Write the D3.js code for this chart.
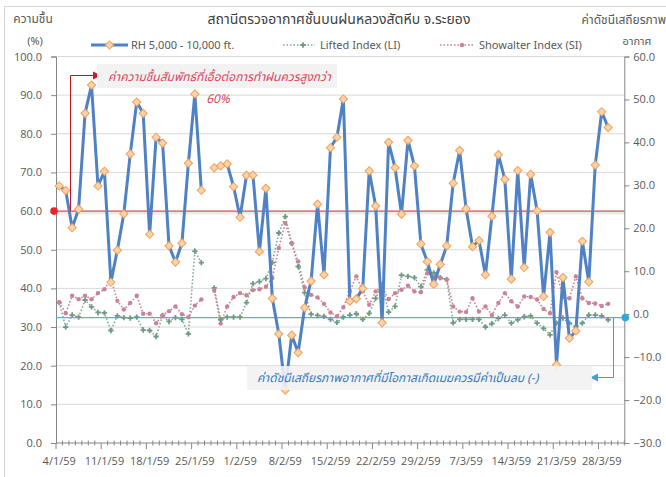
<!DOCTYPE html>
<html><head><meta charset="utf-8">
<script src="https://cdn.jsdelivr.net/npm/d3@7"></script>
<style>
body{margin:0;background:#fff;}
svg{display:block;font-family:"Noto Sans Thai","Leelawadee UI",Tahoma,"Noto Sans","DejaVu Sans",sans-serif;}
</style>
</head><body><svg id="c" width="666" height="477"></svg>
<script>
// ---- data ----
const startDate = new Date(2016, 0, 4);
const endDate = new Date(2016, 3, 1);
const xTickLabels = ["4/1/59","11/1/59","18/1/59","25/1/59","1/2/59","8/2/59","15/2/59","22/2/59","29/2/59","7/3/59","14/3/59","21/3/59","28/3/59"];
const leftTicks = [0,10,20,30,40,50,60,70,80,90,100];
const rightTicks = [-30,-20,-10,0,10,20,30,40,50,60];
const rh = [66.5,65.3,55.7,60.5,85.3,92.6,66.5,70.3,41.6,49.9,
  59.3,74.8,88.2,85.3,54.0,79.1,77.6,51.0,46.8,51.7,
  72.4,90.3,65.4,null,71.2,71.7,72.2,66.3,58.4,69.3,
  69.3,49.5,65.9,37.4,28.2,13.7,27.9,23.4,35.0,41.9,
  61.8,43.5,76.4,79.1,89.0,36.7,37.3,40.0,70.4,61.3,
  31.1,77.8,71.2,59.2,78.3,71.7,51.5,46.9,41.1,46.2,
  51.0,67.2,75.7,60.6,50.8,52.4,43.5,58.7,74.6,68.2,
  42.4,70.5,45.4,69.5,60.1,37.9,54.5,20.2,42.8,27.1,
  29.0,52.2,41.7,71.9,85.7,81.6];
const li = [2.7,-3.0,-0.2,-0.7,3.3,1.7,0.4,0.3,-3.8,-0.4,
  -0.8,-0.9,-0.7,-3.7,-3.8,-5.2,-0.3,-1.7,-0.8,-1.2,
  -4.6,14.7,12.0,null,6.1,-1.3,-0.7,-0.7,-0.7,2.7,
  7.1,7.6,8.3,12.0,18.9,22.7,16.5,11.1,5.0,0.0,
  -0.3,-0.5,-1.2,-1.9,-0.7,-0.2,0.1,-1.2,0.2,3.7,
  7.0,0.5,1.8,9.1,8.8,8.5,6.4,10.3,9.6,8.5,
  8.1,-2.0,-1.2,-1.2,-1.2,-1.2,-3.0,-2.2,-1.0,-0.2,
  -2.1,-1.3,-0.6,-0.4,-2.1,-3.3,-4.8,-2.1,-0.9,-2.1,
  -2.9,-2.1,-0.2,-0.2,-0.4,-1.3];
const si = [2.8,0.2,4.3,3.5,4.3,3.5,4.9,5.8,8.3,3.1,
  1.1,2.6,4.3,0.1,0.1,-2.1,-0.3,0.7,1.8,0.0,
  -0.7,2.0,3.4,null,5.5,-2.2,1.8,4.0,4.9,4.4,
  5.6,5.8,6.4,8.4,15.4,21.2,16.5,12.3,6.2,4.5,
  3.9,2.4,0.4,-0.5,1.6,5.3,8.8,5.3,2.2,5.3,
  6.4,3.5,4.9,5.7,6.6,5.3,5.1,9.5,8.8,8.4,
  8.0,1.8,0.6,0.5,3.7,0.6,1.8,-0.2,2.6,4.9,
  3.0,1.8,4.1,4.0,3.4,1.2,0.2,9.8,4.0,3.7,
  8.8,3.7,2.6,2.5,1.9,2.4];
const rhThreshold = 60;
const stabilityThreshold = -0.8;

// ---- layout ----
const L = 56, R = 624.3, T = 56.5, B = 443;
const svg = d3.select("#c");
const days = d3.timeDay.range(startDate, endDate);
const x = d3.scaleBand().domain(d3.range(days.length)).range([L, R]);
const xc = i => x(i) + x.bandwidth() / 2;
const yL = d3.scaleLinear().domain([0, 100]).range([B, T]);
const yR = d3.scaleLinear().domain([-30, 60]).range([B, T]);
const axisCol = "#868686", txtCol = "#595959";

svg.append("rect").attr("x", 0).attr("y", 0).attr("width", 666).attr("height", 477).attr("fill", "#fff");
svg.append("rect").attr("x", 4.5).attr("y", 6.5).attr("width", 700).attr("height", 500)
  .attr("fill", "none").attr("stroke", "#d4d4d4");

// gridlines
svg.append("g").selectAll("line").data(leftTicks.filter(d => d > 0)).join("line")
  .attr("x1", L).attr("x2", R).attr("y1", d => yL(d)).attr("y2", d => yL(d))
  .attr("stroke", "#d9d9d9").attr("stroke-width", 1);

// left axis
const gL = svg.append("g").attr("transform", `translate(${L},0)`)
  .call(d3.axisLeft(yL).tickValues(leftTicks).tickFormat(d3.format(".1f")).tickSize(5).tickPadding(9));
gL.selectAll("path,line").attr("stroke", axisCol);
gL.selectAll("text").attr("fill", txtCol).style("font-size", "11px").style("font-family", "'Open Sans',sans-serif");

// right axis
const gR = svg.append("g").attr("transform", `translate(${R},0)`)
  .call(d3.axisRight(yR).tickValues(rightTicks).tickFormat(d3.format(".1f")).tickSize(5).tickPadding(4));
gR.selectAll("path,line").attr("stroke", axisCol);
gR.selectAll("text").attr("fill", txtCol).style("font-size", "11px").style("font-family", "'Open Sans',sans-serif");

// x axis
const gX = svg.append("g");
gX.append("line").attr("x1", L).attr("x2", R).attr("y1", B).attr("y2", B).attr("stroke", axisCol);
const edges = d3.range(days.length + 1);
gX.selectAll("line.t").data(edges).join("line").attr("class", "t")
  .attr("x1", i => i < days.length ? x(i) : R).attr("x2", i => i < days.length ? x(i) : R)
  .attr("y1", i => i % 7 === 0 ? B : B - 2.5).attr("y2", i => i % 7 === 0 ? B + 6 : B + 2.5)
  .attr("stroke", axisCol);
const gXl = svg.append("g").attr("transform", `translate(0,${B})`)
  .call(d3.axisBottom(x).tickValues(xTickLabels.map((d, k) => k * 7)).tickFormat((d) => xTickLabels[d / 7]).tickSize(0).tickPadding(14));
gXl.select(".domain").remove();
gXl.selectAll("text").attr("fill", txtCol).style("font-size", "11px").style("font-family", "'Open Sans',sans-serif");

// threshold lines
svg.append("line").attr("x1", L).attr("x2", R).attr("y1", yL(rhThreshold) + 2).attr("y2", yL(rhThreshold) + 2)
  .attr("stroke", "#000").attr("stroke-opacity", 0.08).attr("stroke-width", 3);
svg.append("line").attr("x1", L).attr("x2", R).attr("y1", yL(rhThreshold)).attr("y2", yL(rhThreshold))
  .attr("stroke", "#e0575b").attr("stroke-width", 1.3);
svg.append("line").attr("x1", L).attr("x2", R).attr("y1", yR(stabilityThreshold)).attr("y2", yR(stabilityThreshold))
  .attr("stroke", "#4bb6d8").attr("stroke-width", 1.2);

// series lines
const liCol = "#7fa792", siCol = "#cf7b91";
svg.append("path").datum(li).attr("d", d3.line().defined(d => d != null).x((d, i) => xc(i)).y(d => yR(d)))
  .attr("fill", "none").attr("stroke", liCol).attr("stroke-width", 1.6).attr("stroke-dasharray", "1.5,2");
svg.append("path").datum(si).attr("d", d3.line().defined(d => d != null).x((d, i) => xc(i)).y(d => yR(d)))
  .attr("fill", "none").attr("stroke", siCol).attr("stroke-width", 1.6).attr("stroke-dasharray", "1.5,2");
svg.append("g").selectAll("path").data(li.map((v, i) => [v, i]).filter(d => d[0] != null)).join("path")
  .attr("d", d3.symbol(d3.symbolCross, 16)).attr("transform", d => `translate(${xc(d[1])},${yR(d[0])})`)
  .attr("fill", "#6f9b84");
svg.append("g").selectAll("circle").data(si.map((v, i) => [v, i]).filter(d => d[0] != null)).join("circle")
  .attr("cx", d => xc(d[1])).attr("cy", d => yR(d[0])).attr("r", 2.2).attr("fill", "#c98397");

svg.append("path").datum(rh).attr("d", d3.line().defined(d => d != null).x((d, i) => xc(i)).y(d => yL(d)))
  .attr("fill", "none").attr("stroke", "#4f81c5").attr("stroke-width", 3).attr("stroke-linejoin", "round");
svg.append("g").selectAll("path").data(rh.map((v, i) => [v, i]).filter(d => d[0] != null)).join("path")
  .attr("d", d3.symbol(d3.symbolSquare, 34)).attr("transform", d => `translate(${xc(d[1])},${yL(d[0])}) rotate(45)`)
  .attr("fill", "#fbd3aa").attr("stroke", "#f0a15a").attr("stroke-width", 1);

// red annotation
const red = "#c0141c";
svg.append("circle").attr("cx", L - 2).attr("cy", yL(rhThreshold)).attr("r", 3.8).attr("fill", "#e8262b");
svg.append("path").attr("d", `M70.5,${yL(rhThreshold)}V75.5H94`).attr("fill", "none").attr("stroke", red).attr("stroke-width", 1);
svg.append("path").attr("d", "M93,71.5L101,75.5L93,79.5Z").attr("fill", "#e0101a");
svg.append("rect").attr("x", 97).attr("y", 64).attr("width", 240).attr("height", 24).attr("fill", "#f2f2f2");
svg.append("text").attr("x", 108).attr("y", 81).attr("fill", "#d9455d").style("font-size", "12px").style("font-style", "italic")
  .text("ค่าความชื้นสัมพัทธ์ที่เอื้อต่อการทำฝนควรสูงกว่า");
svg.append("text").attr("x", 218).attr("y", 103).attr("text-anchor", "middle").attr("fill", "#d9455d").style("font-size", "12px").style("font-style", "italic")
  .text("60%");

// cyan annotation
const cy0 = yR(stabilityThreshold);
svg.append("circle").attr("cx", R + 1).attr("cy", cy0).attr("r", 3.8).attr("fill", "#2fa8dc");
svg.append("path").attr("d", `M613.5,${cy0}V377.5H597`).attr("fill", "none").attr("stroke", "#2fa8dc").attr("stroke-width", 1);
svg.append("path").attr("d", "M598,373.5L590,377.5L598,381.5Z").attr("fill", "#2fa8dc");
svg.append("rect").attr("x", 247).attr("y", 366).attr("width", 345).attr("height", 24).attr("fill", "#f2f2f2").attr("fill-opacity", 0.9);
svg.append("text").attr("x", 257).attr("y", 382).attr("fill", "#3a78b8").style("font-size", "12px").style("font-style", "italic")
  .text("ค่าดัชนีเสถียรภาพอากาศที่มีโอกาสเกิดเมฆควรมีค่าเป็นลบ (-)");

// titles
svg.append("text").attr("x", 339).attr("y", 24).attr("text-anchor", "middle").attr("fill", "#404040")
  .style("font-size", "14px").text("สถานีตรวจอากาศชั้นบนฝนหลวงสัตหีบ  จ.ระยอง");
svg.append("text").attr("x", 33).attr("y", 23).attr("text-anchor", "middle").attr("fill", txtCol).style("font-size", "12px").text("ความชื้น");
svg.append("text").attr("x", 35).attr("y", 45).attr("text-anchor", "middle").attr("fill", txtCol).style("font-size", "11px").text("(%)");
svg.append("text").attr("x", 666).attr("y", 24).attr("text-anchor", "end").attr("fill", txtCol).style("font-size", "12px").text("ค่าดัชนีเสถียรภาพ");
svg.append("text").attr("x", 637).attr("y", 45).attr("text-anchor", "middle").attr("fill", txtCol).style("font-size", "11px").text("อากาศ");

// legend
const lg = svg.append("g").style("font-size", "11px");
lg.append("line").attr("x1", 91).attr("x2", 128).attr("y1", 45).attr("y2", 45).attr("stroke", "#4f81c5").attr("stroke-width", 3);
lg.append("path").attr("d", d3.symbol(d3.symbolSquare, 34)).attr("transform", "translate(109.5,45) rotate(45)")
  .attr("fill", "#fbd3aa").attr("stroke", "#f0a15a");
lg.append("text").attr("x", 131).attr("y", 49).attr("fill", txtCol).text("RH 5,000 - 10,000 ft.");
lg.append("line").attr("x1", 283).attr("x2", 315).attr("y1", 45).attr("y2", 45).attr("stroke", liCol).attr("stroke-width", 1.5).attr("stroke-dasharray", "1.5,2");
lg.append("path").attr("d", d3.symbol(d3.symbolCross, 16)).attr("transform", "translate(303,45)").attr("fill", "#6f9b84");
lg.append("text").attr("x", 320).attr("y", 49).attr("fill", txtCol).text("Lifted Index (LI)");
lg.append("line").attr("x1", 440).attr("x2", 475).attr("y1", 45).attr("y2", 45).attr("stroke", siCol).attr("stroke-width", 1.5).attr("stroke-dasharray", "1.5,2");
lg.append("circle").attr("cx", 462).attr("cy", 45).attr("r", 2.2).attr("fill", "#c98397");
lg.append("text").attr("x", 479).attr("y", 49).attr("fill", txtCol).text("Showalter Index (SI)");
</script></body></html>
